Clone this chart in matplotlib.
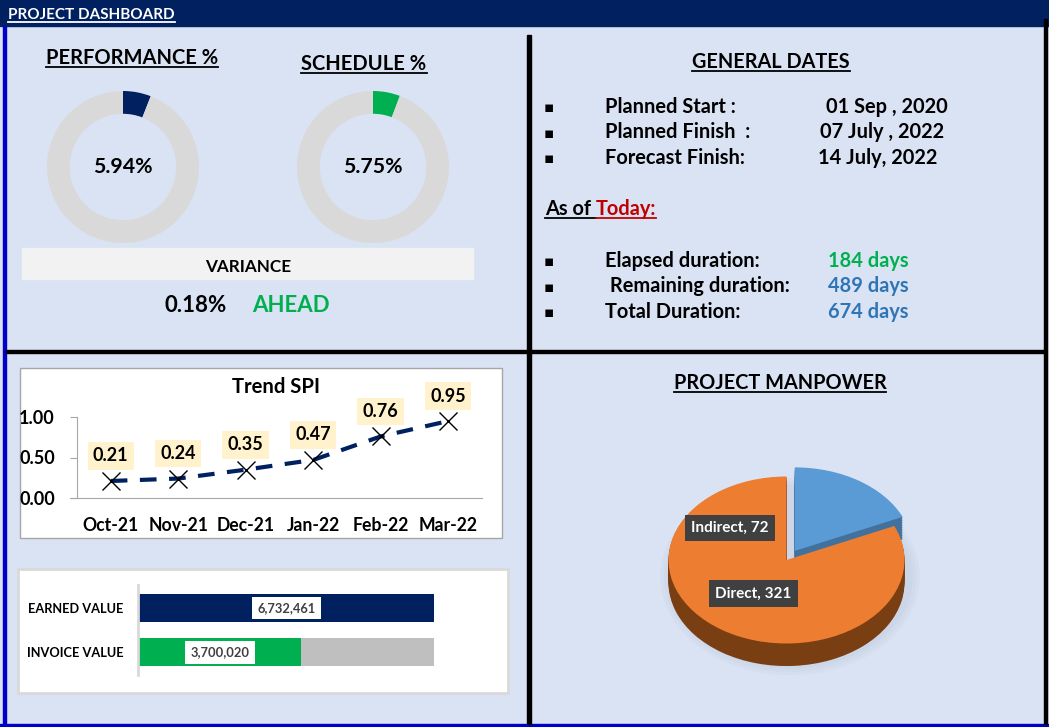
import numpy as np
import matplotlib
matplotlib.use("Agg")
import matplotlib.pyplot as plt
from matplotlib.patches import Rectangle, Ellipse
from matplotlib.lines import Line2D

plt.rcParams['font.family'] = ['Lato', 'DejaVu Sans']
plt.rcParams['font.weight'] = 'bold'

# Data
performance_pct = 5.94
schedule_pct = 5.75
variance_pct = 0.18
variance_status = "AHEAD"

date_labels = ["Planned Start :", "Planned Finish  :", "Forecast Finish:"]
date_values = ["01 Sep , 2020", "07 July , 2022", "14 July, 2022"]
duration_labels = ["Elapsed duration:", " Remaining duration:", "Total Duration:"]
duration_values = ["184 days", "489 days", "674 days"]

spi_months = ["Oct-21", "Nov-21", "Dec-21", "Jan-22", "Feb-22", "Mar-22"]
spi_values = [0.21, 0.24, 0.35, 0.47, 0.76, 0.95]

value_labels = ["EARNED VALUE", "INVOICE VALUE"]
earned_value = 6732461
invoice_value = 3700020

manpower_labels = ["Indirect", "Direct"]
manpower_counts = [72, 321]

# Colors
NAVY = "#002060"
GREEN = "#00B050"
BLUE = "#2E75B6"
BG = "#DAE3F3"
GRAY = "#D9D9D9"

W, H = 1049, 727
fig = plt.figure(figsize=(W / 100, H / 100), dpi=100)
fig.patch.set_facecolor(BG)


def px(x0, y0, x1, y1):
    return [x0 / W, 1 - y1 / H, (x1 - x0) / W, (y1 - y0) / H]


# overlay in pixel coordinates for frames / text
bg = fig.add_axes([0, 0, 1, 1], zorder=0)
bg.set_xlim(0, W)
bg.set_ylim(H, 0)
bg.axis('off')
bg.patch.set_alpha(0)

bg.add_patch(Rectangle((0, 0), W, 26, color=NAVY))
bg.add_patch(Rectangle((3, 26), 3, H - 26, color="#0000CC"))
bg.add_patch(Rectangle((0, 724), W, 3, color="#0000CC"))
bg.add_patch(Rectangle((1044, 19), 3, 705, color="black"))
bg.add_patch(Rectangle((527, 35), 4, 689, color="black"))
bg.add_patch(Rectangle((6, 350), 1038, 3, color="black"))

# boxes
bg.add_patch(Rectangle((22, 248), 451, 31, color="#F2F2F2"))
bg.add_patch(Rectangle((19.5, 367.5), 482, 170, facecolor="white", edgecolor="#A6A6A6", lw=1))
bg.add_patch(Rectangle((17.5, 568.5), 490, 124, facecolor="white", edgecolor="#D9D9D9", lw=2))

texts_to_underline = []


def txt(x, y, s, size, color="black", ha="left", underline=False, **kw):
    t = bg.text(x, y, s, fontsize=size, color=color, ha=ha, va='baseline',
                fontweight='bold', **kw)
    if underline:
        texts_to_underline.append((t, y, color))
    return t


txt(8, 19, "PROJECT DASHBOARD", 11, color="white", underline=True)
txt(132, 64, "PERFORMANCE %", 14.5, ha='center', underline=True)
txt(364, 70, "SCHEDULE %", 14.5, ha='center', underline=True)
txt(248, 272, "VARIANCE", 12.3, ha='center')
txt(227, 312, f"{variance_pct:.2f}%", 16, ha='right')
txt(252, 312, variance_status, 16, color=GREEN)

txt(771, 68, "GENERAL DATES", 14.3, ha='center', underline=True)
date_x = [826, 820, 818]
for i, (lab, val) in enumerate(zip(date_labels, date_values)):
    yb = 113 + i * 25.5
    txt(549, yb - 1, "▪", 11, ha='center', family='DejaVu Sans')
    txt(605, yb, lab, 14.4)
    txt(date_x[i], yb, val, 14.4)

as_of = txt(545, 215, "As of ", 14.4, underline=True)
today = txt(600, 215, "Today:", 14.4, color="#C00000", underline=True)

dur_colors = [GREEN, BLUE, BLUE]
for i, (lab, val) in enumerate(zip(duration_labels, duration_values)):
    yb = 267 + i * 25.5
    txt(549, yb - 1, "▪", 11, ha='center', family='DejaVu Sans')
    txt(605, yb, lab, 14.4)
    txt(828, yb, val, 14.4, color=dur_colors[i])

txt(276, 393, "Trend SPI", 14.6, ha='center')
txt(780, 389, "PROJECT MANPOWER", 14.3, ha='center', underline=True)

# Donut gauges
for cx, val, col in [(123, performance_pct, NAVY), (373, schedule_pct, GREEN)]:
    ax = fig.add_axes(px(cx - 76, 167 - 76, cx + 76, 167 + 76))
    ax.pie([val, 100 - val], colors=[col, GRAY], startangle=90, counterclock=False,
           wedgeprops=dict(width=0.3, linewidth=0))
    ax.set_xlim(-1, 1)
    ax.set_ylim(-1, 1)
    ax.set_aspect('auto')
    ax.text(0, 0, f"{val:.2f}%", ha='center', va='center', fontsize=15.3, fontweight='bold')

# Trend SPI
ax = fig.add_axes(px(77, 417, 482, 498))
xs = np.arange(len(spi_months))
ax.plot(xs, spi_values, color=NAVY, lw=3, dashes=(4, 3), zorder=2, clip_on=False)
ax.plot(xs, spi_values, ls='none', marker='x', ms=13, mew=1, color="black", zorder=3, clip_on=False)
for x, v in zip(xs, spi_values):
    ax.annotate(f"{v:.2f}", (x, v), xytext=(0, 18), textcoords='offset points',
                ha='center', va='center', fontsize=13, fontweight='bold',
                bbox=dict(boxstyle='square,pad=0.3', fc="#FFF2CC", ec='none'))
ax.set_xlim(-0.5, len(spi_months) - 0.5)
ax.set_ylim(0, 1)
ax.set_yticks([0, 0.5, 1.0])
ax.set_yticklabels(["0.00", "0.50", "1.00"])
ax.set_xticks(xs)
ax.set_xticklabels(spi_months)
ax.tick_params(axis='y', length=5, color="#A6A6A6", labelsize=13, pad=11)
ax.tick_params(axis='x', length=0, labelsize=12.7, pad=14)
ax.patch.set_alpha(0)
for s in ['top', 'right']:
    ax.spines[s].set_visible(False)
ax.spines['left'].set_color("#A6A6A6")
ax.spines['bottom'].set_color("#A6A6A6")
ax.spines['bottom'].set_bounds(-0.6, len(spi_months) - 0.5)

# Earned / invoice value bars
ax = fig.add_axes(px(139, 585, 434, 675))
ypos = [1, 0]
ax.barh(0, earned_value, height=0.63, color="#BFBFBF")
ax.barh(ypos, [earned_value, invoice_value], height=0.63, color=[NAVY, GREEN])
for y, v in zip(ypos, [earned_value, invoice_value]):
    ax.text(v / 2, y, f"{v:,}", ha='center', va='center', fontsize=9.3, color="#404040",
            fontweight='bold', bbox=dict(boxstyle='square,pad=0.4', fc='white', ec='none'))
ax.set_xlim(0, earned_value)
ax.set_ylim(-0.51, 1.52)
ax.set_yticks(ypos)
ax.set_yticklabels(value_labels)
ax.tick_params(axis='y', length=0, labelsize=9.2, pad=10)
ax.set_xticks([])
for s in ['top', 'right', 'bottom']:
    ax.spines[s].set_visible(False)
ax.spines['left'].set_color("#D9D9D9")
ax.spines['left'].set_linewidth(2)
ax.spines['left'].set_position(('outward', 1))
ax.patch.set_alpha(0)

# 3D-looking pie
ax = fig.add_axes(px(786.5 - 1.4 * 118, 560 - 1.3 * 83.5, 786.5 + 1.4 * 118, 560 + 1.7 * 83.5))
ax.patch.set_alpha(0)
for k in range(3):
    ax.add_patch(Ellipse((0.03, -0.2), 2.08 + k * 0.06, 2.2 + k * 0.08, color="#8A9BB8",
                         alpha=0.06, lw=0))
depth = 0.27
explode = [0.13, 0]
for d in np.linspace(depth, 0.01, 14):
    ax.pie(manpower_counts, colors=["#41719C", "#7A3E13"], startangle=90, counterclock=False,
           explode=explode, center=(0, -d), wedgeprops=dict(linewidth=0))
ax.pie(manpower_counts, colors=["#5B9BD5", "#ED7D31"], startangle=90, counterclock=False,
       explode=explode, wedgeprops=dict(linewidth=0))
ax.set_aspect('auto')
ax.set_xlim(-1.4, 1.4)
ax.set_ylim(-1.7, 1.3)
ax.axis('off')
label_pos = [(-0.48, 0.38), (-0.28, -0.4)]
for (lx, ly), lab, n in zip(label_pos, manpower_labels, manpower_counts):
    ax.text(lx, ly, f"{lab}, {n}", ha='center', va='center', color='white', fontsize=11,
            fontweight='bold', bbox=dict(boxstyle='square,pad=0.4', fc="#404040", ec='none'))

# underlines
fig.canvas.draw()
r = fig.canvas.get_renderer()
# place "Today:" right after "As of "
bb = as_of.get_window_extent(r)
today.set_x(bg.transData.inverted().transform((bb.x1, 0))[0])
fig.canvas.draw()
for t, y, col in texts_to_underline:
    bb = t.get_window_extent(r)
    x0 = bg.transData.inverted().transform((bb.x0, 0))[0]
    x1 = bg.transData.inverted().transform((bb.x1, 0))[0]
    bg.add_line(Line2D([x0, x1], [y + 2.5, y + 2.5], color=col, lw=1.3))

fig.savefig("out.png", dpi=100, facecolor=BG)
